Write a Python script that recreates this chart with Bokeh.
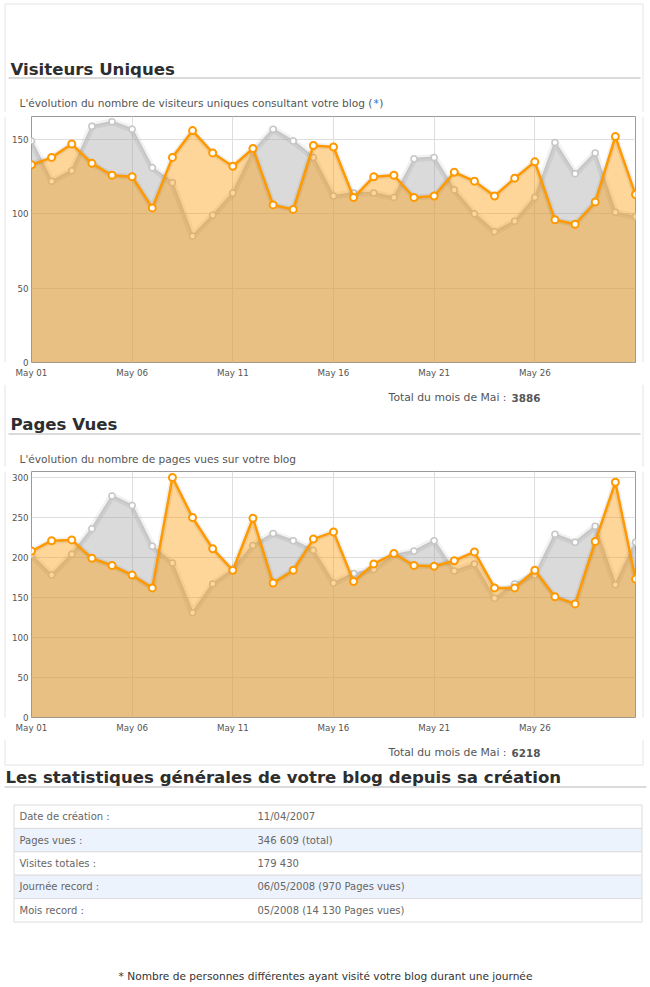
from bokeh.plotting import figure
from bokeh.layouts import column, row
from bokeh.models import Range1d, FixedTicker, ColumnDataSource
from bokeh.core.properties import value
from bokeh.embed import file_html
from bokeh.resources import INLINE

# ---------------- data ----------------
days = list(range(1, 32))
tick_days = [1, 6, 11, 16, 21, 26]
tick_labels = ["May 01", "May 06", "May 11", "May 16", "May 21", "May 26"]

visitors_may = [133, 138, 147, 134, 126, 125, 104, 138, 156, 141, 132, 144, 106, 103, 146,
                145, 111, 125, 126, 111, 112, 128, 122, 112, 124, 135, 96, 93, 108, 152, 113]
visitors_prev = [149, 122, 129, 159, 162, 157, 131, 121, 85, 99, 114, 142, 157, 149, 138,
                 112, 114, 114, 111, 137, 138, 116, 100, 88, 95, 111, 148, 127, 141, 101, 98]
visitors_ticks = [0, 50, 100, 150]
visitors_max = 165.5

pages_may = [208, 221, 222, 199, 190, 178, 162, 300, 250, 211, 184, 249, 168, 184, 223,
             232, 170, 192, 205, 190, 189, 196, 207, 162, 162, 184, 151, 142, 220, 294, 173]
pages_prev = [203, 178, 204, 236, 277, 265, 214, 193, 131, 167, 185, 215, 230, 221, 209,
              168, 180, 185, 203, 208, 221, 183, 192, 149, 167, 178, 229, 219, 239, 166, 219]
pages_ticks = [0, 50, 100, 150, 200, 250, 300]
pages_max = 307.5

visitors_total = "3886"
pages_total = "6218"

stat_labels = ["Date de création :", "Pages vues :", "Visites totales :",
               "Journée record :", "Mois record :"]
stat_values = ["11/04/2007", "346 609 (total)", "179 430",
               "06/05/2008 (970 Pages vues)", "05/2008 (14 130 Pages vues)"]

# ---------------- style ----------------
FONT = "DejaVu Sans"
PANEL = "#e4e4e4"
HEAD = "#2e2e2e"
SUB = "#555555"
HSIZE = 16.6
SSIZE = 10.6


def page_fig(w, h):
    p = figure(width=w, height=h, x_range=Range1d(0, w), y_range=Range1d(h, 0),
               output_backend="svg", toolbar_location=None, title=None,
               x_axis_location=None, y_axis_location=None, min_border=0)
    p.grid.visible = False
    p.outline_line_color = None
    p.background_fill_color = "white"
    p.border_fill_color = "white"
    return p


def txt(p, x, y, s, size, color=SUB, bold=False, align="left"):
    p.text(x=[x], y=[y], text=[s], text_font=value(FONT), text_font_size=f"{size}px",
           text_font_style="bold" if bold else "normal", text_color=color,
           text_align=align, text_baseline="middle")


def hline(p, x0, x1, y, color, width=1):
    p.segment(x0=[x0], y0=[y], x1=[x1], y1=[y], line_color=color, line_width=width)


def vline(p, x, y0, y1, color, width=1):
    p.segment(x0=[x], y0=[y0], x1=[x], y1=[y1], line_color=color, line_width=width)


def strip(w, h, x):
    p = page_fig(w, h)
    vline(p, x, 0, h, PANEL)
    return p


def chart(cur, prev, ymax, yticks):
    p = figure(width=632, height=272, x_range=Range1d(1, 31), y_range=Range1d(0, ymax),
               output_backend="svg", toolbar_location=None, title=None,
               min_border_left=23, min_border_right=5, min_border_top=4, min_border_bottom=22)
    p.background_fill_color = "white"
    p.border_fill_color = "white"
    p.outline_line_color = "#9a9a9a"
    p.xaxis.ticker = FixedTicker(ticks=tick_days)
    p.xaxis.major_label_overrides = {d: l for d, l in zip(tick_days, tick_labels)}
    p.yaxis.ticker = FixedTicker(ticks=yticks)
    for ax in (p.xaxis, p.yaxis):
        ax.axis_line_color = None
        ax.major_tick_line_color = None
        ax.minor_tick_line_color = None
        ax.major_tick_out = 0
        ax.major_tick_in = 0
        ax.minor_tick_out = 0
        ax.minor_tick_in = 0
        ax.major_label_text_font = FONT
        ax.major_label_text_font_size = "8.7px"
        ax.major_label_text_color = "#545454"
    p.xaxis.major_label_standoff = 5
    p.yaxis.major_label_standoff = 3
    p.xgrid.grid_line_color = "#dedede"
    p.ygrid.grid_line_color = "#dedede"

    src = ColumnDataSource(dict(day=days, cur=cur, prev=prev))
    p.varea(x="day", y1=0, y2="prev", source=src, fill_color="#a3a3a3", fill_alpha=0.4)
    p.line("day", "prev", source=src, line_color="black", line_alpha=0.05, line_width=7)
    p.line("day", "prev", source=src, line_color="#c6c6c6", line_width=2)
    p.scatter("day", "prev", source=src, size=6, fill_color="white",
              line_color="#c6c6c6", line_width=1.5)
    p.varea(x="day", y1=0, y2="cur", source=src, fill_color="#ff9900", fill_alpha=0.4)
    p.line("day", "cur", source=src, line_color="black", line_alpha=0.06, line_width=6)
    p.line("day", "cur", source=src, line_color="#ff9900", line_width=2.5)
    p.scatter("day", "cur", source=src, size=7, fill_color="white",
              line_color="#ff9900", line_width=2)
    return p


# ---------------- top section (page y 0..112) ----------------
top = page_fig(650, 112)
hline(top, 4.5, 642.5, 3.5, PANEL)
vline(top, 4.5, 3.5, 112, PANEL)
vline(top, 642.5, 3.5, 112, PANEL)
txt(top, 10, 69, "Visiteurs Uniques", HSIZE, HEAD, bold=True)
hline(top, 8, 640, 77.5, "#b5b5b5")
txt(top, 19, 102, "L'évolution du nombre de visiteurs uniques consultant votre blog (", SSIZE)
txt(top, 373, 102, "*", SSIZE, "#2a6bd0")
txt(top, 383, 102, ")", SSIZE, align="right")

row1 = row(strip(8, 272, 4.5), chart(visitors_may, visitors_prev, visitors_max, visitors_ticks),
           strip(10, 272, 2.5), spacing=0)

# ---------------- middle section (page y 384..467) ----------------
mid = page_fig(650, 83)
vline(mid, 4.5, 0, 83, PANEL)
vline(mid, 642.5, 0, 83, PANEL)
txt(mid, 506, 13, "Total du mois de Mai :", 10.8, align="right")
txt(mid, 511, 13, visitors_total, 10.4, bold=True)
txt(mid, 10, 40, "Pages Vues", HSIZE, HEAD, bold=True)
hline(mid, 8, 640, 49.5, "#b5b5b5")
txt(mid, 19, 74, "L'évolution du nombre de pages vues sur votre blog", SSIZE)

row2 = row(strip(8, 272, 4.5), chart(pages_may, pages_prev, pages_max, pages_ticks),
           strip(10, 272, 2.5), spacing=0)

# ---------------- bottom section (page y 739..987) ----------------
bot = page_fig(650, 248)
vline(bot, 4.5, 0, 25.5, PANEL)
vline(bot, 642.5, 0, 25.5, PANEL)
hline(bot, 4.5, 642.5, 25.5, PANEL)
txt(bot, 506, 13, "Total du mois de Mai :", 10.8, align="right")
txt(bot, 511, 13, pages_total, 10.4, bold=True)
txt(bot, 5, 38, "Les statistiques générales de votre blog depuis sa création", HSIZE, HEAD, bold=True)
hline(bot, 4, 646, 47.5, "#b5b5b5")

t_top = 65.5
rh = 23.4
n = len(stat_labels)
tops = [t_top + i * rh for i in range(n)]
bots = [t + rh for t in tops]
fills = ["white" if i % 2 == 0 else "#edf3fd" for i in range(n)]
bot.quad(left=13.5, right=641.5, top=tops, bottom=bots, fill_color=fills,
         line_color="#dcdcdc", line_width=1)
mids = [t + rh / 2 for t in tops]
bot.text(x=[19] * n, y=mids, text=stat_labels,
         text_font=value(FONT), text_font_size="10px", text_color="#666666",
         text_baseline="middle")
bot.text(x=[257] * n, y=mids, text=stat_values,
         text_font=value(FONT), text_font_size="10px", text_color="#666666",
         text_baseline="middle")

txt(bot, 325, 236, "* Nombre de personnes différentes ayant visité votre blog durant une journée",
    SSIZE, "#333333", align="center")

layout = column(top, row1, mid, row2, bot, spacing=0)

with open("out.html", "w") as f:
    f.write(file_html(layout, INLINE))
